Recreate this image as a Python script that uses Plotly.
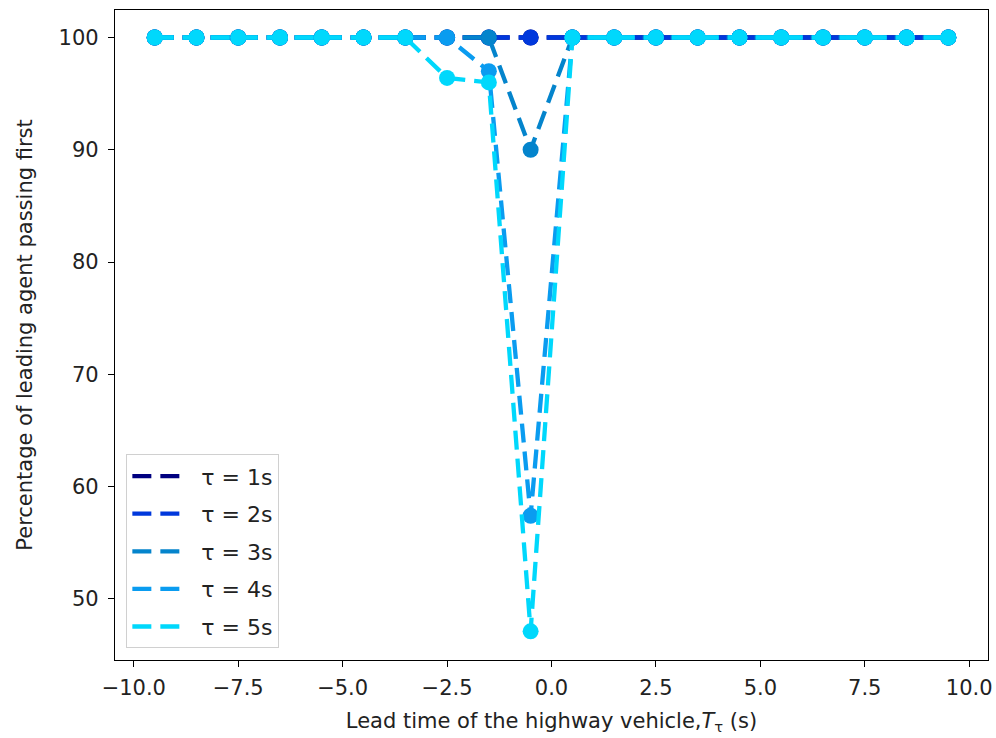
import plotly.graph_objects as go

lead_time = [-9.5, -8.5, -7.5, -6.5, -5.5, -4.5, -3.5, -2.5, -1.5, -0.5,
             0.5, 1.5, 2.5, 3.5, 4.5, 5.5, 6.5, 7.5, 8.5, 9.5]

tau1 = [100] * 20
tau2 = [100] * 20
tau3 = [100, 100, 100, 100, 100, 100, 100, 100, 100, 90,
        100, 100, 100, 100, 100, 100, 100, 100, 100, 100]
tau4 = [100, 100, 100, 100, 100, 100, 100, 100, 97, 57.4,
        100, 100, 100, 100, 100, 100, 100, 100, 100, 100]
tau5 = [100, 100, 100, 100, 100, 100, 100, 96.4, 96, 47.1,
        100, 100, 100, 100, 100, 100, 100, 100, 100, 100]

names = ["τ = 1s", "τ = 2s", "τ = 3s", "τ = 4s", "τ = 5s"]
series = [tau1, tau2, tau3, tau4, tau5]
colors = ["#000080", "#0038dc", "#0484cc", "#0a9cf0", "#00d8fc"]

x_ticks = [-10, -7.5, -5, -2.5, 0, 2.5, 5, 7.5, 10]
y_ticks = [50, 60, 70, 80, 90, 100]

DASH = "19px,9px"
LW = 4.3

fig = go.Figure()
for name, ys, c in zip(names, series, colors):
    fig.add_trace(go.Scatter(
        x=lead_time, y=ys, mode="lines+markers", name=name,
        line=dict(color=c, width=LW, dash=DASH),
        marker=dict(color=c, size=16),
        showlegend=False, legendgroup=name))
for name, c in zip(names, colors):
    fig.add_trace(go.Scatter(
        x=[None], y=[None], mode="lines", name="\u00a0\u00a0" + name, legendgroup=name,
        line=dict(color=c, width=LW, dash=DASH)))

axis_common = dict(showline=True, linecolor="black", linewidth=1.3, mirror=True,
                   ticks="outside", ticklen=6, tickcolor="black", showgrid=False,
                   zeroline=False, automargin=False,
                   tickfont=dict(family="DejaVu Sans", size=21, color="#222"))

fig.update_layout(
    width=996, height=738,
    margin=dict(l=115, r=8, t=10, b=78),
    paper_bgcolor="white", plot_bgcolor="white",
    font=dict(family="DejaVu Sans", size=21, color="#222"),
    xaxis=dict(range=[-10.45, 10.45], tickvals=x_ticks, tickformat=".1f",
               ticklabelstandoff=3,
               title=dict(text="Lead time of the highway vehicle,<i>T</i><sub>τ</sub> (s)",
                          font=dict(size=21), standoff=13),
               **axis_common),
    yaxis=dict(range=[44.55, 102.45], tickvals=y_ticks,
               ticklabelstandoff=5,
               title=dict(text="Percentage of leading agent passing first",
                          font=dict(size=21), standoff=20),
               **axis_common),
    legend=dict(x=0.013, y=0.018, xanchor="left", yanchor="bottom",
                bgcolor="rgba(255,255,255,0.8)", bordercolor="#d0d0d0", borderwidth=1,
                font=dict(size=22), tracegroupgap=6, traceorder="grouped",
                itemwidth=50),
)

fig.write_html("out.html")
